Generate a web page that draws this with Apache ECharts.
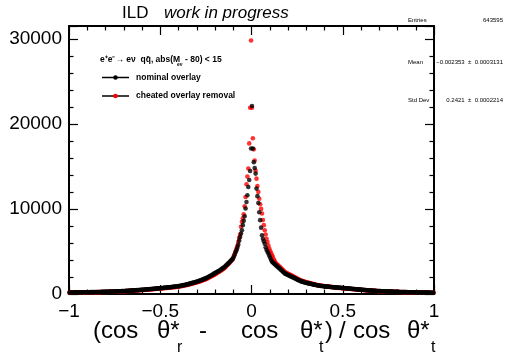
<!DOCTYPE html>
<html>
<head>
<meta charset="utf-8">
<script src="https://cdn.jsdelivr.net/npm/echarts/dist/echarts.min.js"></script>
<style>
  html, body { margin: 0; padding: 0; background: #ffffff; }
  #chart { width: 505px; height: 354px; }
</style>
</head>
<body>
<div id="chart"></div>
<script>
// Histogram binning: 400 bins over [-1, 1]
const binLow = -1;
const binWidth = 0.005;

// Bin contents, nominal overlay
const nominalOverlay = [
  176,174,179,178,182,181,184,186,185,189,
  190,192,191,195,196,198,197,202,203,206,
  209,212,213,217,218,221,222,225,227,229,
  231,233,237,238,243,245,249,250,255,257,
  261,263,269,271,277,279,285,287,293,296,
  301,304,311,314,321,324,331,334,341,344,
  351,356,365,370,379,384,393,398,407,412,
  421,427,437,443,453,459,469,475,485,491,
  501,508,519,526,537,544,555,562,573,580,
  591,599,611,619,631,639,651,659,671,679,
  691,700,713,722,735,744,757,766,779,788,
  801,812,827,838,853,864,879,890,905,916,
  931,951,975,995,1019,1039,1065,1087,1113,1135,
  1161,1189,1221,1249,1281,1309,1341,1369,1401,1429,
  1461,1499,1541,1579,1621,1659,1705,1747,1793,1835,
  1881,1939,2001,2059,2121,2179,2241,2299,2361,2419,
  2481,2543,2609,2671,2737,2799,2877,2951,3029,3103,
  3181,3283,3389,3491,3597,3699,3813,3923,4037,4149,
  4350,4600,4900,5150,5450,5800,6300,6700,7100,7500,
  8090,8600,9140,10050,10820,11600,12580,13400,14450,17100,
  22100,17100,15500,14800,14150,12390,11500,10700,9600,8680,
  7800,6900,6500,6200,5900,5500,5200,4960,4750,4500,
  4250,4000,3790,3690,3600,3500,3400,3300,3210,3110,
  3020,2920,2820,2720,2620,2520,2420,2365,2310,2255,
  2200,2150,2100,2050,2000,1950,1896,1842,1788,1734,
  1680,1630,1580,1530,1480,1450,1420,1390,1360,1330,
  1300,1274,1248,1222,1196,1170,1146,1122,1098,1074,
  1050,1032,1014,996,978,960,946,932,918,904,
  890,882,869,861,851,838,831,819,811,799,
  790,781,772,763,754,745,736,727,718,709,
  700,690,680,670,660,650,640,630,620,610,
  600,590,580,570,560,550,540,530,520,510,
  500,491,482,473,464,455,446,437,428,419,
  410,403,396,389,382,375,368,361,354,347,
  340,335,330,325,320,315,310,305,300,295,
  290,286,282,278,274,270,266,262,258,254,
  250,246,243,239,236,232,229,225,222,218,
  215,212,210,207,205,202,200,197,195,192,
  190,187,185,182,180,177,175,172,170,167,
  165,163,162,160,158,157,155,153,152,150
];

// Bin contents, cheated overlay removal
const cheatedRemoval = [
  164,162,166,165,169,168,171,173,172,176,
  177,179,178,181,182,184,183,188,189,191,
  194,197,198,202,203,206,206,209,211,213,
  215,217,220,221,226,228,232,233,237,239,
  243,245,250,252,258,260,265,267,272,275,
  280,283,289,292,299,301,308,311,317,320,
  326,331,339,344,352,357,365,370,379,383,
  392,397,406,412,421,427,436,442,451,457,
  471,478,488,494,505,511,522,528,539,545,
  556,563,574,582,593,601,612,619,631,638,
  650,658,670,679,691,699,712,720,732,741,
  753,763,777,788,802,812,826,837,851,861,
  875,894,917,935,958,977,1001,1022,1046,1067,
  1091,1118,1148,1174,1204,1230,1261,1287,1317,1343,
  1373,1409,1449,1484,1524,1560,1603,1642,1685,1725,
  1768,1823,1881,1935,1994,2048,2107,2161,2219,2274,
  2357,2420,2485,2548,2614,2676,2754,2828,2906,2982,
  3070,3180,3290,3400,3510,3620,3740,3860,3990,4120,
  4400,4680,5000,5300,5650,6100,6600,7000,7900,8480,
  8900,9380,10300,11400,12900,13800,14750,17700,21900,29800,
  21900,18300,17000,15700,14500,13560,12700,12000,11200,10550,
  10000,9460,8700,8090,7500,7000,6500,6100,5700,5350,
  5050,4800,4550,4300,4050,3850,3640,3530,3435,3328,
  3231,3124,3017,2910,2803,2696,2589,2531,2472,2413,
  2354,2300,2247,2193,2140,2086,2029,1971,1913,1855,
  1781,1728,1675,1622,1569,1537,1505,1473,1442,1410,
  1365,1338,1310,1283,1256,1228,1203,1178,1153,1128,
  1081,1063,1044,1026,1007,989,974,960,946,931,
  905,893,881,869,857,845,833,821,809,797,
  766,758,749,740,731,723,714,705,696,688,
  679,669,660,650,640,630,621,611,601,592,
  582,572,563,553,543,534,524,514,504,495,
  485,476,468,459,450,441,433,424,415,406,
  398,391,384,377,371,364,357,350,343,337,
  330,325,320,315,310,306,301,296,291,286,
  281,277,274,270,266,262,258,254,250,246,
  243,239,236,232,229,225,222,218,215,211,
  209,206,204,201,199,196,194,191,189,186,
  184,181,179,177,175,172,170,167,165,162,
  160,158,157,155,153,152,150,148,147,146
];

// Axis ranges and major tick spacing
const xRange = [-1, 1];
const xMajorStep = 0.5;
const yRange = [0, 31500];
const yMajorStep = 10000;

// Legend entries and statistics box
const seriesNames = ['nominal overlay', 'cheated overlay removal'];
const seriesColors = ['#000000', '#ff0000'];
const statLabels = ['Entries', 'Mean', 'Std Dev'];
const statValues = ['643595', '\u22120.002353  \u00b1  0.0003131', '0.2421  \u00b1  0.0002214'];

const FONT = '"Liberation Sans", Arial, Helvetica, sans-serif';

function toPoints(counts) {
  return counts.map((c, i) => [binLow + binWidth * (i + 0.5), c]);
}

function minusSign(v) {
  return String(v).replace('-', '\u2212');
}

const frameLine = { show: true, onZero: false, lineStyle: { color: '#000', width: 2 } };
const majorTick = { show: true, inside: true, length: 9, lineStyle: { color: '#000', width: 1.2 } };
const minorTick = { show: true, splitNumber: 5, length: 4.5, lineStyle: { color: '#000', width: 1.2 } };

function text(str, x, y, size, opts) {
  return {
    type: 'text',
    x: x, y: y,
    silent: true,
    style: Object.assign({
      text: str,
      font: size + 'px ' + FONT,
      fill: '#000',
      align: 'left',
      verticalAlign: 'middle'
    }, opts || {})
  };
}

const graphics = [
  // header
  text('ILD', 122, 13, 17),
  text('work in progress', 164, 13, 17, { font: 'italic 17px ' + FONT }),

  // statistics box
  text(statLabels[0], 408, 20, 6),
  text(statValues[0], 503, 20, 6, { align: 'right' }),
  text(statLabels[1], 408, 62, 6),
  text(statValues[1], 503, 62, 6, { align: 'right' }),
  text(statLabels[2], 408, 100, 6),
  text(statValues[2], 503, 100, 6, { align: 'right' }),

  // legend header
  text('e\u207ae\u207b\u2192 e\u03bd  qq\u0304, abs(M', 100, 60, 8.5, { font: 'bold 8.5px ' + FONT }),
  text('e\u03bd', 177, 65, 5, { font: 'bold 5px ' + FONT }),
  text('- 80) < 15', 185, 60, 8.5, { font: 'bold 8.5px ' + FONT }),

  // legend entries
  { type: 'line', silent: true, shape: { x1: 102, y1: 77.5, x2: 129, y2: 77.5 }, style: { stroke: '#000', lineWidth: 1.5 } },
  { type: 'circle', silent: true, shape: { cx: 115.5, cy: 77.5, r: 2.3 }, style: { fill: seriesColors[0] } },
  text(seriesNames[0], 136, 77.5, 8.5, { font: 'bold 8.5px ' + FONT }),
  { type: 'line', silent: true, shape: { x1: 102, y1: 96, x2: 129, y2: 96 }, style: { stroke: '#000', lineWidth: 1.5 } },
  { type: 'circle', silent: true, shape: { cx: 115.5, cy: 96, r: 2.3 }, style: { fill: seriesColors[1] } },
  text(seriesNames[1], 136, 96, 8.5, { font: 'bold 8.5px ' + FONT }),

  // x-axis title: (cos θ*_r - cos θ*_t) / cos θ*_t
  text('(cos', 93, 331, 24),
  text('\u03b8*', 157, 331, 24),
  text('r', 177, 348, 16),
  text('-', 199, 331, 24),
  text('cos', 241, 331, 24),
  text('\u03b8*', 300, 331, 24),
  text('t', 319, 348, 16),
  text(')', 325, 331, 24),
  text('/', 339, 331, 24),
  text('cos', 353, 331, 24),
  text('\u03b8*', 407, 331, 24),
  text('t', 431, 348, 16)
];

const chart = echarts.init(document.getElementById('chart'), null, { renderer: 'canvas' });

chart.setOption({
  animation: false,
  backgroundColor: '#ffffff',
  textStyle: { fontFamily: FONT },
  grid: { left: 69, right: 71, top: 26, bottom: 60, containLabel: false },
  xAxis: [
    {
      type: 'value', min: xRange[0], max: xRange[1], interval: xMajorStep,
      position: 'bottom',
      axisLine: frameLine, axisTick: majorTick, minorTick: minorTick,
      splitLine: { show: false },
      axisLabel: { show: true, color: '#000', fontSize: 19, fontFamily: FONT, margin: 8, formatter: minusSign }
    },
    {
      type: 'value', min: xRange[0], max: xRange[1], interval: xMajorStep,
      position: 'top',
      axisLine: frameLine, axisTick: majorTick, minorTick: minorTick,
      splitLine: { show: false }, axisLabel: { show: false }
    }
  ],
  yAxis: [
    {
      type: 'value', min: yRange[0], max: yRange[1], interval: yMajorStep,
      position: 'left',
      axisLine: frameLine, axisTick: majorTick, minorTick: minorTick,
      splitLine: { show: false },
      axisLabel: { show: true, color: '#000', fontSize: 19, fontFamily: FONT, margin: 7, showMaxLabel: false,
                   formatter: v => String(v) }
    },
    {
      type: 'value', min: yRange[0], max: yRange[1], interval: yMajorStep,
      position: 'right',
      axisLine: frameLine, axisTick: majorTick, minorTick: minorTick,
      splitLine: { show: false }, axisLabel: { show: false }
    }
  ],
  series: [
    {
      name: seriesNames[1], type: 'scatter', xAxisIndex: 0, yAxisIndex: 0,
      symbol: 'circle', symbolSize: 4.6, silent: true,
      itemStyle: { color: seriesColors[1] },
      data: toPoints(cheatedRemoval)
    },
    {
      name: seriesNames[0], type: 'scatter', xAxisIndex: 0, yAxisIndex: 0,
      symbol: 'circle', symbolSize: 4.6, silent: true,
      itemStyle: { color: seriesColors[0] },
      data: toPoints(nominalOverlay)
    }
  ],
  graphic: graphics
});
</script>
</body>
</html>
